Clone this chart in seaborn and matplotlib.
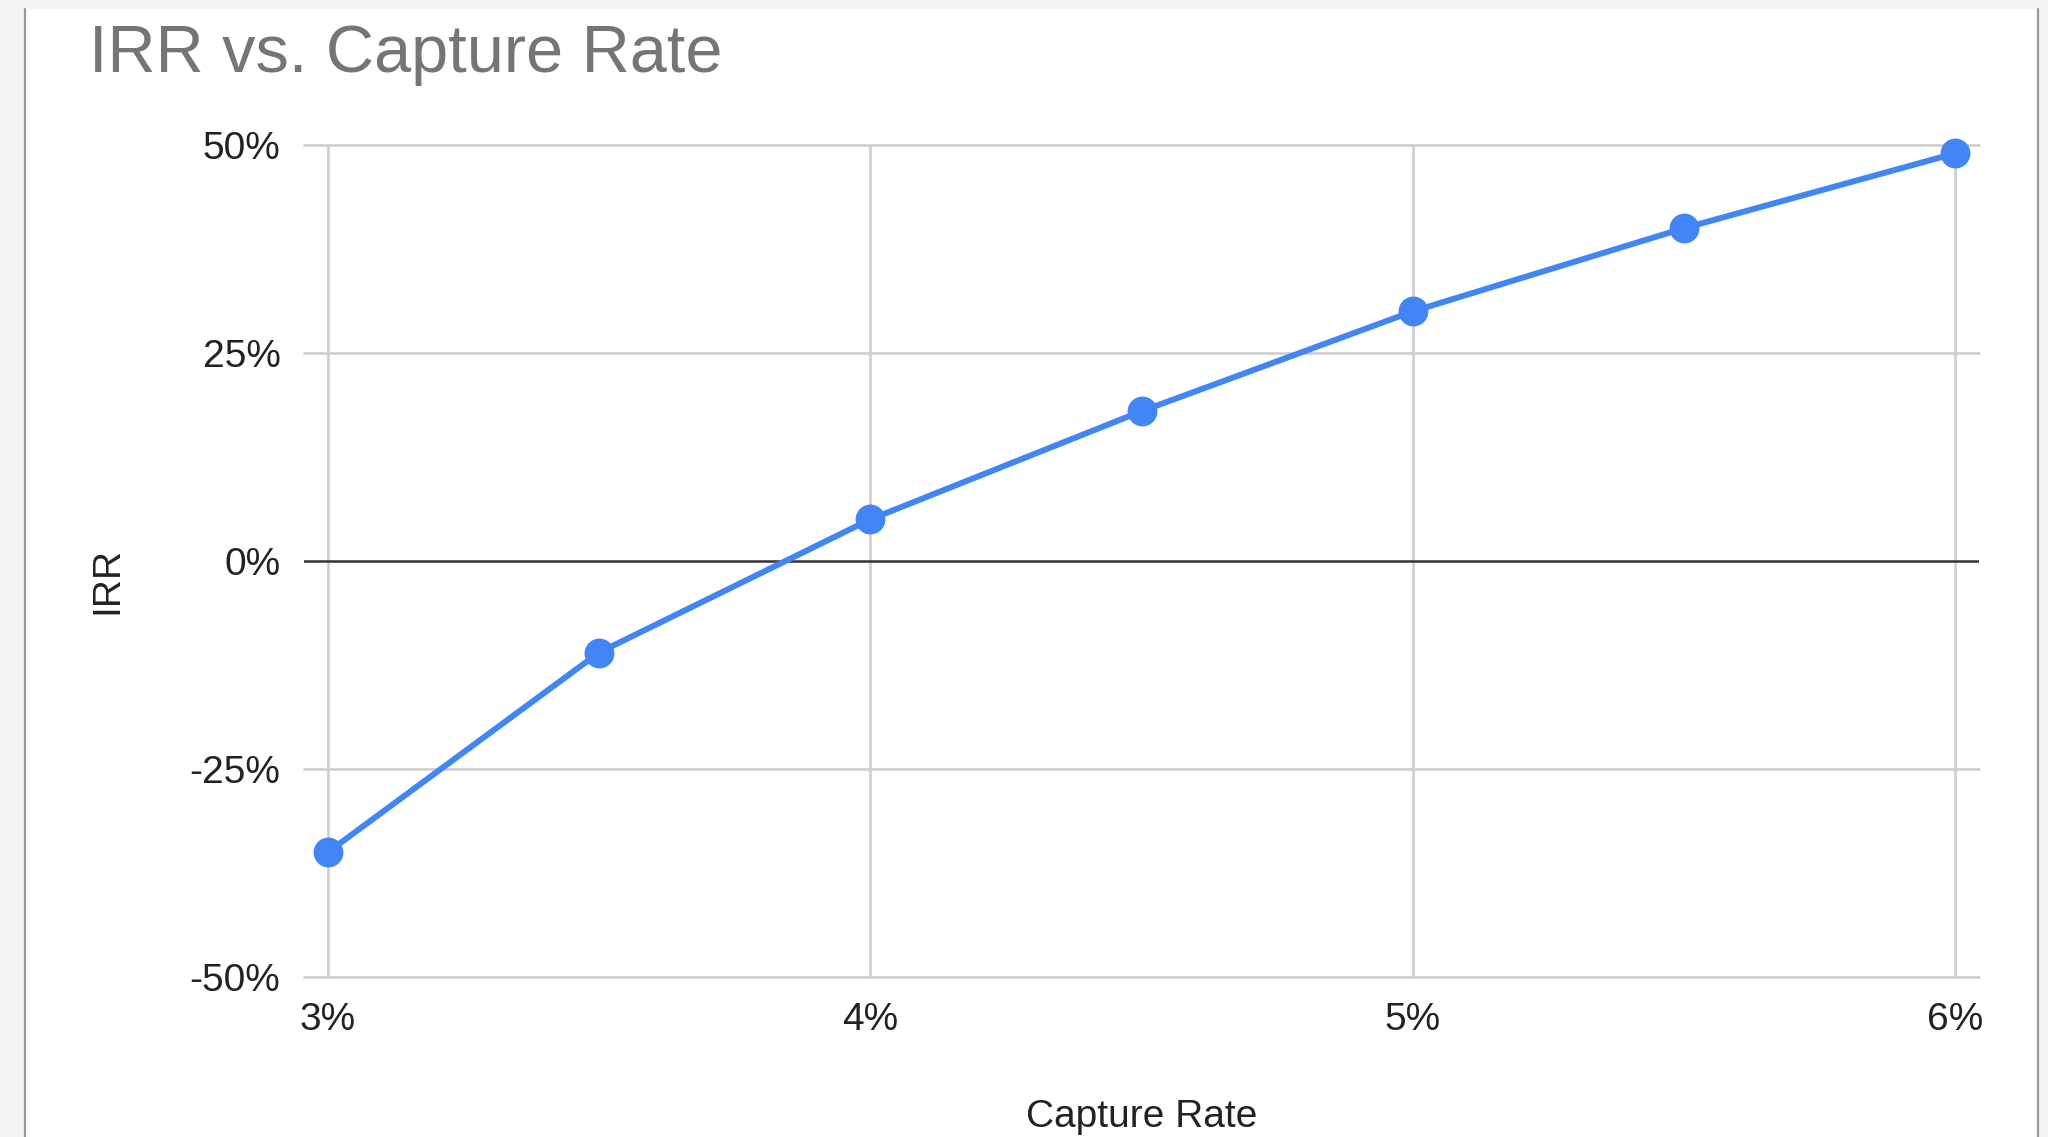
import matplotlib
matplotlib.use("Agg")
import matplotlib.pyplot as plt
import matplotlib.patches as mpatches
import matplotlib.lines as mlines
import seaborn as sns
import pandas as pd
from matplotlib.ticker import FuncFormatter

# Capture rate (%) and the resulting IRR (%)
capture_rate = [3.0, 3.5, 4.0, 4.5, 5.0, 5.5, 6.0]
irr = [-35, -11, 5, 18, 30, 40, 49]

x_ticks = [3, 4, 5, 6]
y_ticks = [-50, -25, 0, 25, 50]

title = "IRR vs. Capture Rate"
x_label = "Capture Rate"
y_label = "IRR"

BLUE = "#4285F4"
GRID = "#d0d0d0"
TEXT = "#222222"

sns.set_theme(style="white")
plt.rcParams["font.family"] = ["Liberation Sans", "DejaVu Sans"]

W, H = 2048, 1137
fig = plt.figure(figsize=(W / 100, H / 100), dpi=100, facecolor="#f4f4f4")

# white card with thin side borders, kept behind the axes
card = mpatches.Rectangle((25 / W, 0), (2038 - 25) / W, 1 - 9 / H,
                          transform=fig.transFigure, facecolor="white",
                          edgecolor="none", zorder=-10)
fig.patches.append(card)
for xb in (25, 2038):
    fig.lines.append(mlines.Line2D([xb / W, xb / W], [0, 1 - 9 / H],
                                   transform=fig.transFigure,
                                   color="#9a9a9a", lw=1.6, zorder=-9))

left, right, top, bottom = 304, 1979, 145, 977
ax = fig.add_axes([left / W, 1 - bottom / H, (right - left) / W, (bottom - top) / H])
ax.set_facecolor("none")

df = pd.DataFrame({"Capture Rate": capture_rate, "IRR": irr})
sns.lineplot(data=df, x="Capture Rate", y="IRR", ax=ax, color=BLUE,
             linewidth=4.3, marker="o", markersize=21.5, markeredgewidth=0,
             zorder=5, clip_on=False)

ax.set_xlim(3 - 0.044, 6 + 0.044)
ax.set_ylim(-50, 50)
ax.set_xticks(x_ticks)
ax.set_yticks(y_ticks)
ax.xaxis.set_major_formatter(FuncFormatter(lambda v, _: f"{v:.0f}%"))
ax.yaxis.set_major_formatter(FuncFormatter(lambda v, _: f"{v:.0f}%"))

# gridlines: vertical at the x ticks, horizontal across the full width
for yv in y_ticks:
    if yv == 0:
        continue
    ax.axhline(yv, color=GRID, lw=2.0, zorder=1, clip_on=False)
for xv in x_ticks:
    ax.axvline(xv, color=GRID, lw=2.0, zorder=1, clip_on=False)
ax.axhline(0, color="#333333", lw=1.8, zorder=2)

for s in ax.spines.values():
    s.set_visible(False)
ax.tick_params(axis="both", length=0, labelsize=28, colors=TEXT)
ax.tick_params(axis="y", pad=17)
ax.tick_params(axis="x", pad=18)

ax.set_xlabel(x_label, fontsize=28, color=TEXT)
ax.xaxis.set_label_coords(0.5, -0.147)
ax.set_ylabel(y_label, fontsize=28, color=TEXT)
ax.yaxis.set_label_coords(-0.1176, 0.477)
ax.yaxis.label.set_va("center")

fig.text(89 / W, 1 - 72 / H, title, fontsize=48, color="#757575",
         ha="left", va="baseline")

fig.savefig("out.png", dpi=100, facecolor=fig.get_facecolor())
